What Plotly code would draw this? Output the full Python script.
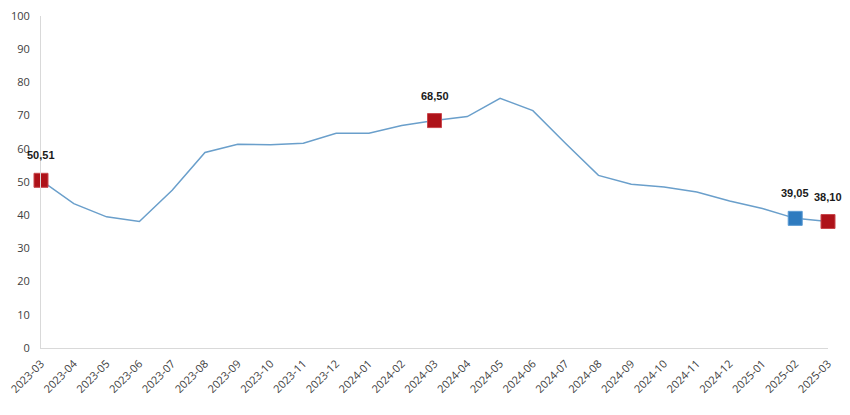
import plotly.graph_objects as go

months = [
    '2023-03', '2023-04', '2023-05', '2023-06', '2023-07', '2023-08', '2023-09',
    '2023-10', '2023-11', '2023-12', '2024-01', '2024-02', '2024-03', '2024-04',
    '2024-05', '2024-06', '2024-07', '2024-08', '2024-09', '2024-10', '2024-11',
    '2024-12', '2025-01', '2025-02', '2025-03',
]
values = [
    50.51, 43.5, 39.5, 38.1, 47.5, 58.9, 61.4,
    61.2, 61.7, 64.7, 64.7, 67.0, 68.50, 69.7,
    75.2, 71.5, 61.6, 52.0, 49.3, 48.5, 47.0,
    44.3, 42.0, 39.05, 38.10,
]
# highlighted points (red = annual comparison, blue = previous month)
red_months = ['2023-03', '2024-03', '2025-03']
blue_months = ['2025-02']

lookup = dict(zip(months, values))

fig = go.Figure()
fig.add_trace(go.Scatter(
    x=months, y=values, mode='lines',
    line=dict(color='#6a9fcb', width=1.5),
    hoverinfo='x+y', showlegend=False,
))
fig.add_trace(go.Scatter(
    x=red_months, y=[lookup[m] for m in red_months], mode='markers',
    marker=dict(symbol='square', size=14, color='#ae1219',
                line=dict(color='#c9474c', width=1)),
    cliponaxis=False, showlegend=False,
))
fig.add_trace(go.Scatter(
    x=blue_months, y=[lookup[m] for m in blue_months], mode='markers',
    marker=dict(symbol='square', size=14, color='#2e7bbf',
                line=dict(color='#5a9ad3', width=1)),
    cliponaxis=False, showlegend=False,
))

for m in red_months + blue_months:
    fig.add_annotation(
        x=m, y=lookup[m], text=f"<b>{lookup[m]:.2f}</b>".replace('.', ','),
        showarrow=False, yshift=25,
        font=dict(family='Liberation Sans, Arial', size=11, color='#1a1a1a'),
    )

# the page body has an 8px margin, so the figure is sized to fit inside it
fig.update_layout(
    width=834, height=399,
    margin=dict(l=33, r=14, t=8, b=59),
    plot_bgcolor='white', paper_bgcolor='white',
    font=dict(family='Open Sans, Noto Sans, sans-serif', size=12, color='#404040'),
    xaxis=dict(
        type='category', range=[0, len(months) - 1], automargin=False,
        tickangle=-45, showgrid=False, zeroline=False,
        showline=True, linecolor='#d9d9d9', linewidth=1,
        ticks='', ticklabelstandoff=4, ticklabeloverflow='allow',
        tickfont=dict(size=11, color='#404040'),
    ),
    yaxis=dict(
        range=[0, 100], dtick=10, showgrid=False, zeroline=False, automargin=False,
        showline=True, linecolor='#d9d9d9', linewidth=1,
        ticks='', ticklabelstandoff=8, ticklabeloverflow='allow',
        tickfont=dict(size=11, color='#404040'),
    ),
)

fig.write_html("out.html")
